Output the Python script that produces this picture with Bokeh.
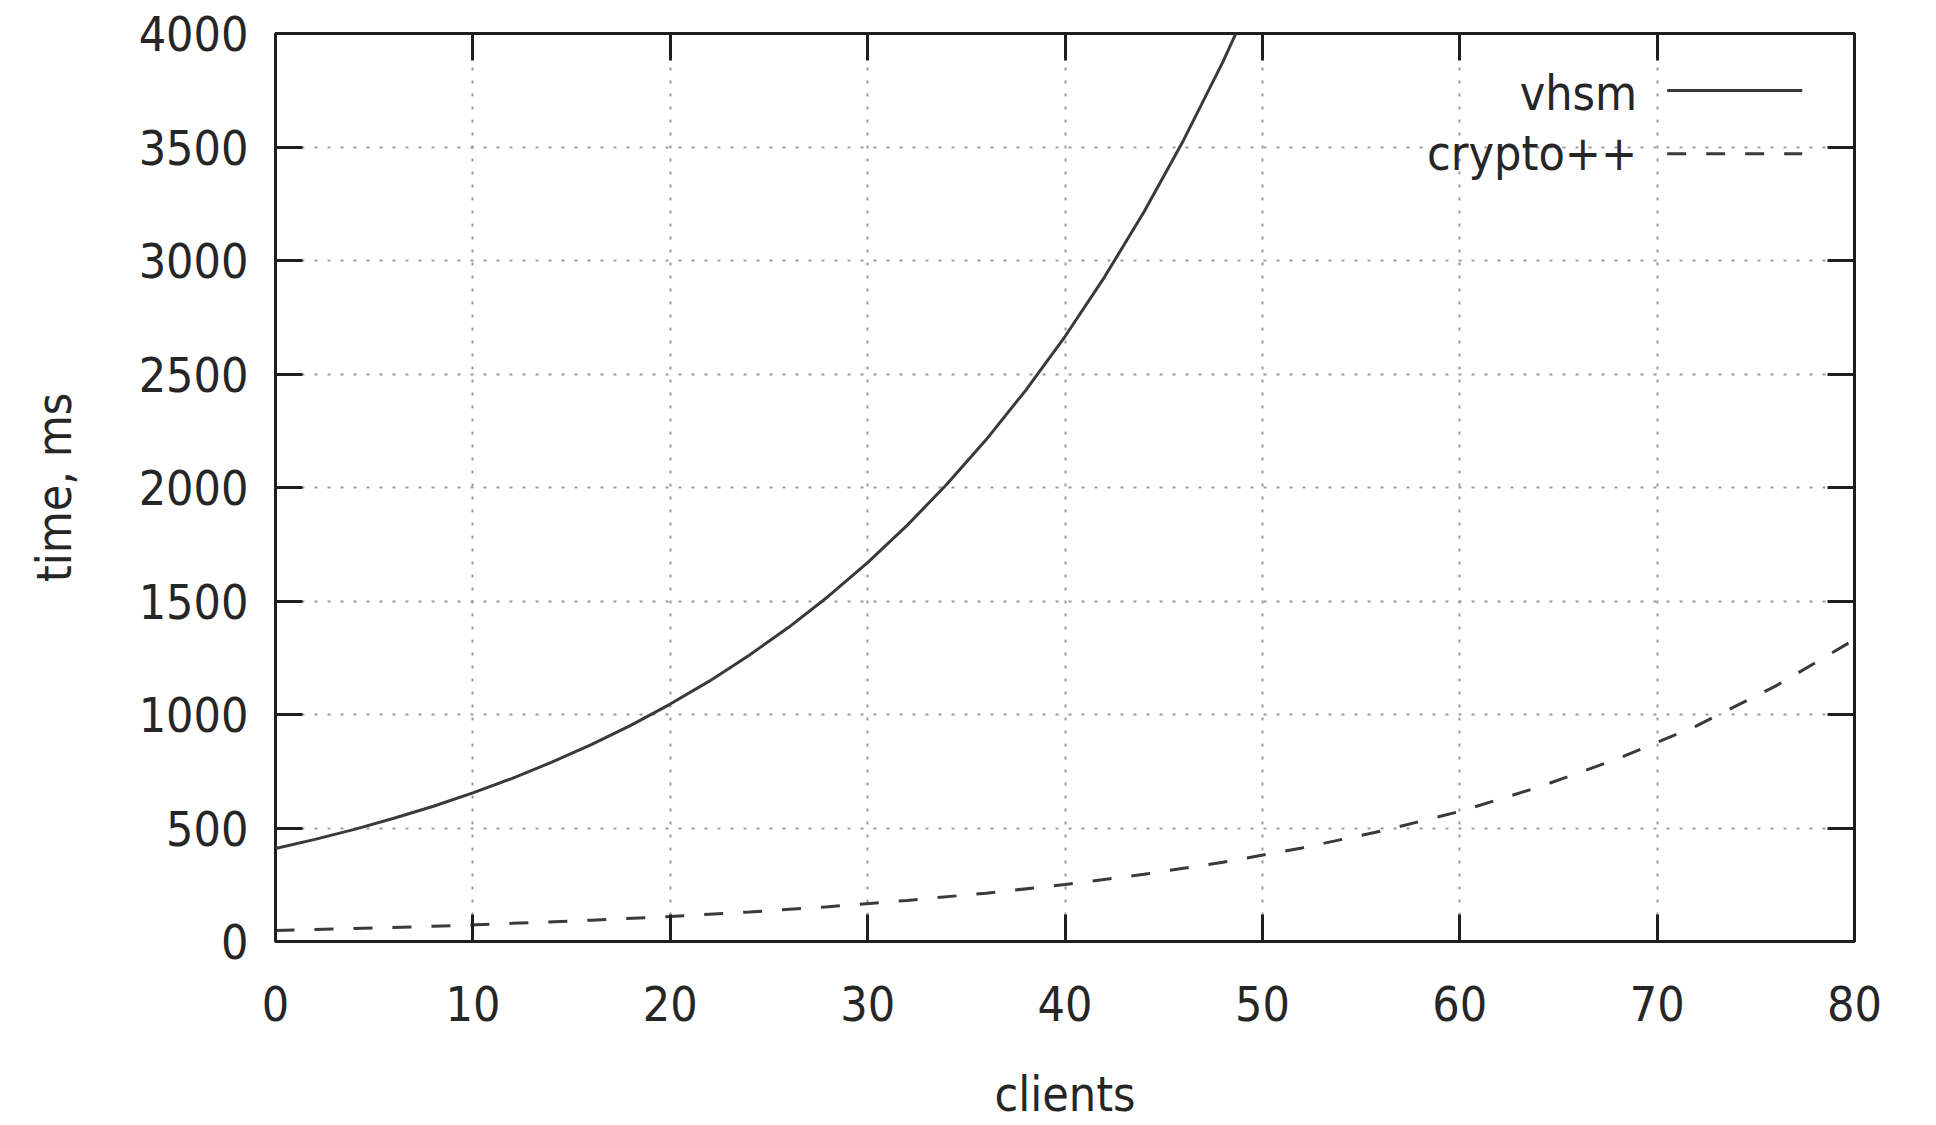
from bokeh.plotting import figure
from bokeh.models import LinearAxis, FixedTicker, Range1d, Label, CustomLabelingPolicy
from bokeh.embed import file_html
from bokeh.resources import INLINE

# ---- data ----
vhsm_x = [0, 2, 4, 6, 8, 10, 12, 14, 16, 18, 20, 22, 24, 26, 28, 30, 32, 34, 36, 38, 40, 42, 44, 46, 48, 50]
vhsm_y = [410, 450, 494, 543, 596, 655, 719, 790, 867, 952, 1046, 1148, 1261, 1384, 1520, 1669,
          1833, 2013, 2210, 2427, 2665, 2927, 3214, 3529, 3875, 4256]

crypto_x = [0, 4, 8, 12, 16, 20, 24, 28, 32, 36, 40, 44, 48, 52, 56, 60, 64, 68, 72, 76, 80]
crypto_y = [48, 57, 67, 80, 94, 110, 130, 153, 181, 213, 251, 296, 349, 412, 486, 573, 680, 805, 950, 1125, 1330]

x_ticks = [0, 10, 20, 30, 40, 50, 60, 70, 80]
y_ticks = [0, 500, 1000, 1500, 2000, 2500, 3000, 3500, 4000]

series_names = ["vhsm", "crypto++"]

FONT = "DejaVu Sans Condensed"
FS = "48px"
TXT = "#262626"
LINE = "#3a3a3a"

p = figure(width=1920, height=1125, output_backend="svg", toolbar_location=None,
           x_range=Range1d(0, 80), y_range=Range1d(0, 4000),
           min_border_left=275, min_border_right=66, min_border_top=33, min_border_bottom=184)
p.background_fill_color = "white"
p.border_fill_color = "white"
p.outline_line_color = "#1e1e1e"
p.outline_line_width = 3

def style_axis(ax, ticks, show_labels):
    ax.ticker = FixedTicker(ticks=ticks)
    ax.axis_line_color = None
    ax.major_tick_in = 27
    ax.major_tick_out = 0
    ax.major_tick_line_width = 3
    ax.major_tick_line_color = "#1e1e1e"
    ax.minor_tick_line_color = None
    if show_labels:
        ax.major_label_text_font = FONT
        ax.major_label_text_font_size = FS
        ax.major_label_text_color = TXT
    else:
        ax.major_label_text_font_size = "1px"
        ax.major_label_standoff = 0
        ax.major_label_policy = CustomLabelingPolicy(code="return new Set()")

xa = p.xaxis[0]
ya = p.yaxis[0]
style_axis(xa, x_ticks, True)
style_axis(ya, y_ticks, True)
xa.major_label_standoff = 44
ya.major_label_standoff = 27
xa.axis_label = "clients"
ya.axis_label = "time, ms"
for ax in (xa, ya):
    ax.axis_label_text_font = FONT
    ax.axis_label_text_font_size = FS
    ax.axis_label_text_font_style = "normal"
    ax.axis_label_text_color = TXT
xa.axis_label_standoff = 42
ya.axis_label_standoff = 54

top = LinearAxis()
style_axis(top, x_ticks, False)
p.add_layout(top, "above")
right = LinearAxis()
style_axis(right, y_ticks, False)
p.add_layout(right, "right")

for g, t in ((p.xgrid[0], x_ticks), (p.ygrid[0], y_ticks)):
    g.ticker = FixedTicker(ticks=t)
    g.grid_line_color = "#9a9a9a"
    g.grid_line_width = 2
    g.grid_line_dash = "3 10"

p.line(vhsm_x, vhsm_y, line_color=LINE, line_width=3)
p.line(crypto_x, crypto_y, line_color=LINE, line_width=3, line_dash="19 20")

# ---- legend (top right, text left of sample) ----
LEG_TEXT_X = 68.99
LEG_X0, LEG_X1 = 70.51, 77.35
LEG_ROWS = [3749, 3470]
LEG_TEXT_Y = [3737, 3473]
dashes = ["solid", "19 20"]
for name, yr, yt, d in zip(series_names, LEG_ROWS, LEG_TEXT_Y, dashes):
    p.add_layout(Label(x=LEG_TEXT_X, y=yt, text=name, text_align="right", text_baseline="middle",
                       text_font=FONT, text_font_size=FS, text_color=TXT))
    p.line([LEG_X0, LEG_X1], [yr, yr], line_color=LINE, line_width=3, line_dash=d)

open("out.html", "w").write(file_html(p, INLINE))
